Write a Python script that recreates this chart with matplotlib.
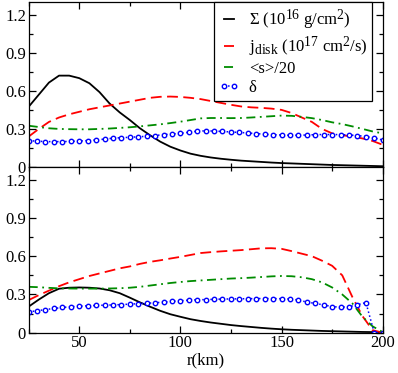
import numpy as np
import matplotlib
matplotlib.use("Agg")
import matplotlib.pyplot as plt
from matplotlib.ticker import MultipleLocator, FuncFormatter
import matplotlib._mathtext as _mt

_mt.SHRINK_FACTOR = 0.82

plt.rcParams['font.family'] = ['Liberation Serif', 'DejaVu Serif']
plt.rcParams['mathtext.fontset'] = 'custom'
plt.rcParams['mathtext.rm'] = 'Liberation Serif'
plt.rcParams['mathtext.it'] = 'Liberation Serif:italic'
plt.rcParams['mathtext.bf'] = 'Liberation Serif:bold'

# ---------------- data ----------------
r = [25, 30, 35, 40, 45, 50, 55, 60, 65, 70, 75, 80, 85, 90, 95, 100, 105, 110,
     115, 120, 125, 130, 135, 140, 145, 150, 155, 160, 165, 170, 175, 180, 185,
     190, 195, 200]

r_delta = [25, 29.2, 33.3, 37.5, 41.7, 45.8, 50, 54.2, 58.3, 62.5, 66.7, 70.8,
           75, 79.2, 83.3, 87.5, 91.7, 95.8, 100, 104.2, 108.3, 112.5, 116.7,
           120.8, 125, 129.2, 133.3, 137.5, 141.7, 145.8, 150, 154.2, 158.3,
           162.5, 166.7, 170.8, 175, 179.2, 183.3, 187.5, 191.7, 195.8, 200]

# top panel
sigma_top = [0.475, 0.57, 0.665, 0.72, 0.72, 0.70, 0.66, 0.59, 0.50, 0.43, 0.37,
             0.305, 0.25, 0.20, 0.16, 0.13, 0.105, 0.088, 0.075, 0.065, 0.057,
             0.05, 0.045, 0.04, 0.035, 0.031, 0.028, 0.025, 0.022, 0.019, 0.016,
             0.014, 0.012, 0.01, 0.008, 0.006]
jdisk_top = [0.24, 0.30, 0.355, 0.39, 0.415, 0.435, 0.455, 0.47, 0.485, 0.50,
             0.515, 0.53, 0.545, 0.553, 0.555, 0.552, 0.545, 0.535, 0.52, 0.505,
             0.49, 0.477, 0.47, 0.466, 0.46, 0.45, 0.425, 0.39, 0.355, 0.30,
             0.265, 0.25, 0.24, 0.225, 0.205, 0.175]
s_top = [0.325, 0.315, 0.305, 0.30, 0.298, 0.297, 0.297, 0.30, 0.303, 0.308,
         0.313, 0.32, 0.328, 0.336, 0.346, 0.357, 0.37, 0.383, 0.386, 0.386,
         0.385, 0.386, 0.39, 0.395, 0.40, 0.405, 0.403, 0.395, 0.385, 0.37,
         0.352, 0.338, 0.32, 0.30, 0.28, 0.265]
delta_top = [0.207, 0.204, 0.2, 0.2, 0.2, 0.202, 0.205, 0.208, 0.213, 0.22,
             0.227, 0.231, 0.234, 0.238, 0.242, 0.248, 0.255, 0.26, 0.265,
             0.274, 0.282, 0.285, 0.283, 0.28, 0.276, 0.272, 0.268, 0.263,
             0.258, 0.255, 0.252, 0.25, 0.25, 0.252, 0.255, 0.256, 0.256,
             0.255, 0.252, 0.248, 0.24, 0.228, 0.213]

# bottom panel
sigma_bot = [0.205, 0.26, 0.31, 0.345, 0.353, 0.355, 0.353, 0.347, 0.333, 0.31,
             0.275, 0.238, 0.204, 0.172, 0.145, 0.125, 0.106, 0.092, 0.08, 0.07,
             0.06, 0.052, 0.045, 0.038, 0.032, 0.027, 0.023, 0.02, 0.017, 0.014,
             0.012, 0.01, 0.008, 0.006, 0.005, 0.004]
jdisk_bot = [0.256, 0.295, 0.33, 0.365, 0.395, 0.42, 0.445, 0.465, 0.485, 0.505,
             0.52, 0.54, 0.556, 0.568, 0.582, 0.595, 0.61, 0.625, 0.632, 0.638,
             0.643, 0.648, 0.655, 0.662, 0.663, 0.658, 0.64, 0.62, 0.60, 0.565,
             0.525, 0.45, 0.28, 0.13, 0.02, 0.0]
s_bot = [0.36, 0.357, 0.352, 0.348, 0.347, 0.346, 0.346, 0.346, 0.347, 0.349,
         0.353, 0.36, 0.37, 0.38, 0.39, 0.398, 0.405, 0.41, 0.415, 0.42, 0.425,
         0.428, 0.432, 0.437, 0.442, 0.445, 0.443, 0.435, 0.42, 0.395, 0.355,
         0.30, 0.23, 0.125, 0.05, 0.005]
delta_bot = [0.164, 0.172, 0.182, 0.19, 0.198, 0.204, 0.208, 0.211, 0.214,
             0.216, 0.218, 0.221, 0.224, 0.228, 0.231, 0.235, 0.240, 0.246,
             0.251, 0.255, 0.258, 0.26, 0.262, 0.264, 0.265, 0.266, 0.267,
             0.268, 0.268, 0.268, 0.267, 0.264, 0.257, 0.24, 0.23, 0.218, 0.205,
             0.2, 0.204, 0.22, 0.236, 0.0, 0.0]

labels = ['Σ (10$^{16}$ g/cm$^{2}$)',
          'j$_{\\rm disk}$ (10$^{17}$ cm$^{2}$/s)',
          '<s>/20',
          'δ']
xticks = [50, 100, 150, 200]
yticks = [0, 0.3, 0.6, 0.9, 1.2]

# ---------------- figure ----------------
fig = plt.figure(figsize=(3.98, 3.73), dpi=100)
left, right = 0.0721, 0.9616
ax_top = fig.add_axes([left, 0.5523, right - left, 0.9946 - 0.5523])
ax_bot = fig.add_axes([left, 0.108, right - left, 0.5523 - 0.108])

green = '#008c00'
lw = 1.3
fs = 12

def yfmt(v, pos):
    if abs(v) < 1e-9:
        return '0'
    return '%.1f' % v

for ax, sig, jd, s, de in [(ax_top, sigma_top, jdisk_top, s_top, delta_top),
                            (ax_bot, sigma_bot, jdisk_bot, s_bot, delta_bot)]:
    ax.plot(r, sig, color='black', lw=lw, label=labels[0])
    ax.plot(r, jd, color='red', lw=lw, dashes=(6, 3), label=labels[1])
    ax.plot(r, s, color=green, lw=lw, dashes=(5, 2.5, 1, 2.5), label=labels[2])
    ax.plot(r_delta, de, color='blue', lw=1.1, ls=':', marker='o', ms=3.2,
            mfc='white', mec='blue', mew=1.0, label=labels[3])
    ax.set_xlim(25, 200)
    ax.set_ylim(0, 1.3)
    ax.set_xticks(xticks)
    ax.xaxis.set_minor_locator(MultipleLocator(25))
    ax.set_yticks(yticks)
    ax.yaxis.set_minor_locator(MultipleLocator(0.15))
    ax.yaxis.set_major_formatter(FuncFormatter(yfmt))
    ax.tick_params(which='both', direction='in', top=True, right=True,
                   labelsize=fs, width=0.9)
    ax.tick_params(which='major', length=5, pad=2)
    ax.tick_params(which='minor', length=3)
    for sp in ax.spines.values():
        sp.set_linewidth(0.9)

ax_top.tick_params(labelbottom=False)
ax_bot.set_xlabel('r(km)', fontsize=fs, labelpad=1)

leg = ax_top.legend(loc='upper right', bbox_to_anchor=(0.9706, 1.0),
                    borderaxespad=0, fontsize=fs, frameon=True, fancybox=False,
                    edgecolor='black', framealpha=1, numpoints=2,
                    handlelength=1.2, handletextpad=0.6, labelspacing=0.15,
                    borderpad=0.3)
leg.get_frame().set_linewidth(0.9)

fig.savefig('out.png', dpi=100)
